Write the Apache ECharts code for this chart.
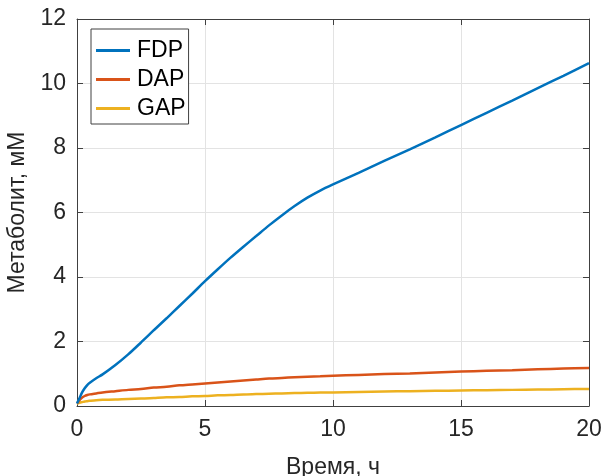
<!DOCTYPE html>
<html>
<head>
<meta charset="utf-8">
<script src="https://cdn.jsdelivr.net/npm/echarts@6/dist/echarts.min.js"></script>
<style>
html,body{margin:0;padding:0;background:#fff;}
#chart{width:604px;height:476px;}
</style>
</head>
<body>
<div id="chart"></div>
<script>
// Time, h
var timeH = [0,0.1,0.2,0.3,0.4,0.5,0.75,1,1.5,2,2.5,3,3.5,4,4.5,5,5.5,6,6.5,7,7.5,8,8.5,9,9.5,10,11,12,13,14,15,16,17,18,19,20];
// Metabolite concentrations, mM
var fdp = [0.08,0.25,0.42,0.55,0.65,0.72,0.86,0.98,1.27,1.6,1.97,2.35,2.72,3.1,3.48,3.87,4.24,4.6,4.94,5.27,5.6,5.91,6.2,6.46,6.68,6.87,7.23,7.6,7.96,8.33,8.71,9.09,9.47,9.86,10.24,10.63];
var dap = [0.08,0.18,0.26,0.31,0.34,0.36,0.39,0.42,0.46,0.5,0.53,0.57,0.6,0.64,0.67,0.7,0.73,0.76,0.79,0.82,0.85,0.87,0.89,0.91,0.925,0.94,0.965,0.99,1.01,1.04,1.07,1.09,1.11,1.14,1.16,1.18];
var gap = [0.07,0.1,0.12,0.14,0.15,0.16,0.18,0.19,0.2,0.22,0.23,0.25,0.27,0.28,0.3,0.31,0.33,0.34,0.36,0.37,0.38,0.39,0.4,0.41,0.415,0.42,0.435,0.45,0.46,0.47,0.48,0.49,0.5,0.51,0.52,0.53];
var seriesNames = ['FDP','DAP','GAP'];
var colors = ['#0072BD','#D95319','#EDB120'];

function pairs(ys){ return timeH.map(function(t,i){ return [t, ys[i]]; }); }

var font = 'Liberation Sans, Arial, sans-serif';
var txt = '#262626';
var axisCol = '#404040';
var gridCol = '#e3e3e3';

var chart = echarts.init(document.getElementById('chart'), null, {renderer:'canvas'});
chart.setOption({
  animation:false,
  backgroundColor:'#fff',
  color:colors,
  grid:{left:77, right:15, top:19, bottom:70, containLabel:false, outerBoundsMode:'none'},
  legend:{
    orient:'vertical', left:91, top:29,
    padding:[10,3,4,5],
    backgroundColor:'#fff', borderColor:axisCol, borderWidth:1,
    icon:'rect', itemWidth:34, itemHeight:3, itemGap:6,
    textStyle:{fontFamily:font, fontSize:23, color:'#000', padding:[0,0,0,2]},
    data:seriesNames
  },
  xAxis:[{
    type:'value', min:0, max:20, interval:5,
    name:'Время, ч', nameLocation:'middle', nameGap:50,
    nameTextStyle:{fontFamily:font, fontSize:23, color:txt},
    axisLine:{show:true, onZero:false, lineStyle:{color:axisCol, width:1}},
    axisTick:{show:true, inside:true, length:6, lineStyle:{color:axisCol}},
    axisLabel:{fontFamily:font, fontSize:23, color:txt, margin:12},
    splitLine:{show:true, lineStyle:{color:gridCol, width:1}}
  },{
    type:'value', min:0, max:20, interval:5, position:'top',
    axisLine:{show:true, onZero:false, lineStyle:{color:axisCol, width:1}},
    axisTick:{show:true, inside:true, length:6, lineStyle:{color:axisCol}},
    axisLabel:{show:false}, splitLine:{show:false}
  }],
  yAxis:[{
    type:'value', min:0, max:12, interval:2,
    name:'Метаболит, мМ', nameLocation:'middle', nameGap:42,
    nameTextStyle:{fontFamily:font, fontSize:23, color:txt},
    axisLine:{show:true, onZero:false, lineStyle:{color:axisCol, width:1}},
    axisTick:{show:true, inside:true, length:6, lineStyle:{color:axisCol}},
    axisLabel:{fontFamily:font, fontSize:23, color:txt, margin:11},
    splitLine:{show:true, lineStyle:{color:gridCol, width:1}}
  },{
    type:'value', min:0, max:12, interval:2, position:'right',
    axisLine:{show:true, onZero:false, lineStyle:{color:axisCol, width:1}},
    axisTick:{show:true, inside:true, length:6, lineStyle:{color:axisCol}},
    axisLabel:{show:false}, splitLine:{show:false}
  }],
  series:[
    {name:seriesNames[0], type:'line', data:pairs(fdp), showSymbol:false, smooth:0.3, lineStyle:{width:2.5, color:colors[0]}, z:5},
    {name:seriesNames[1], type:'line', data:pairs(dap), showSymbol:false, smooth:0.3, lineStyle:{width:2.5, color:colors[1]}, z:4},
    {name:seriesNames[2], type:'line', data:pairs(gap), showSymbol:false, smooth:0.3, lineStyle:{width:2.5, color:colors[2]}, z:3}
  ]
});
</script>
</body>
</html>
